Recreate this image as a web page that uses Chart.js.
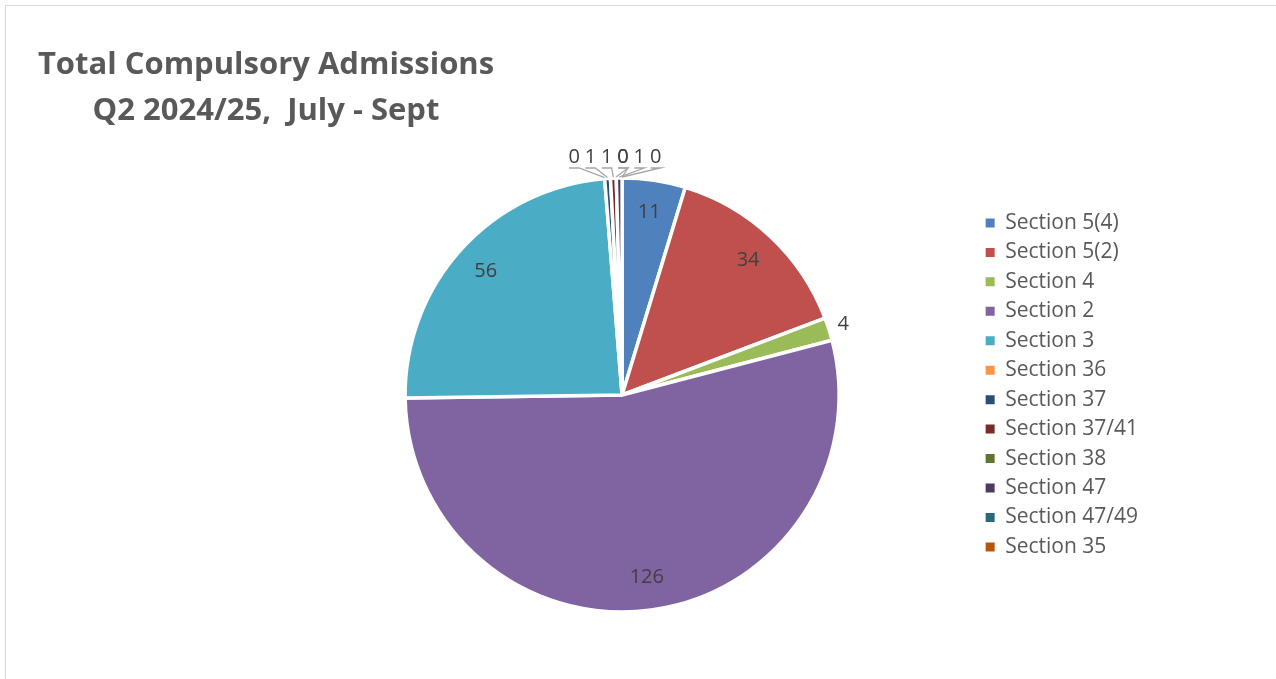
<!DOCTYPE html>
<html>
<head>
<meta charset="utf-8">
<script src="https://cdn.jsdelivr.net/npm/chart.js@4"></script>
<style>
html,body{margin:0;padding:0;background:#fff;overflow:hidden;}
#wrap{position:absolute;left:0;top:0;width:1276px;height:679px;}
#frame{position:absolute;left:5px;top:5px;width:1300px;height:700px;border:1px solid #d9d9d9;pointer-events:none;}
</style>
</head>
<body>
<div id="wrap"><canvas id="pieChart" width="1276" height="679"></canvas></div>
<div id="frame"></div>
<script>
const titleLines = ["Total Compulsory Admissions", "Q2 2024/25,  July - Sept"];

const sections = ["Section 5(4)", "Section 5(2)", "Section 4", "Section 2", "Section 3",
  "Section 36", "Section 37", "Section 37/41", "Section 38", "Section 47", "Section 47/49", "Section 35"];

const admissions = [11, 34, 4, 126, 56, 0, 1, 1, 0, 1, 0, 0];

const sliceColours = ["#4F81BD", "#C0504D", "#9BBB59", "#8064A2", "#4BACC6",
  "#F79646", "#2C4D75", "#772C2A", "#5F7530", "#4D3B62", "#276A7C", "#B65708"];

const FONT = "'Open Sans', 'Liberation Sans', sans-serif";

// title block, both lines centred on one axis; size fitted to the first line's width
const titlePlugin = {
  id: "titleBlock",
  afterDraw(chart){
    const ctx = chart.ctx;
    ctx.save();
    ctx.font = "bold 30px " + FONT;
    const size = 30 * 456 / ctx.measureText(titleLines[0]).width;
    ctx.font = "bold " + size.toFixed(1) + "px " + FONT;
    ctx.fillStyle = "#595959";
    ctx.textAlign = "center";
    ctx.textBaseline = "alphabetic";
    titleLines.forEach((t, i) => ctx.fillText(t, 266, 74 + i * 46));
    ctx.restore();
  }
};

// value labels: inside for big slices, outside for thin ones, leader lines for tiny ones
const valueLabels = {
  id: "valueLabels",
  afterDatasetsDraw(chart){
    const ctx = chart.ctx;
    const arcs = chart.getDatasetMeta(0).data;
    const leaderSlot = [0, 1, 2, 3, 4, 5, 3];
    let k = 0;
    ctx.save();
    ctx.font = "20px " + FONT;
    ctx.fillStyle = "#404040";
    ctx.textAlign = "center";
    ctx.textBaseline = "middle";
    arcs.forEach((arc, i) => {
      const p = arc.getProps(["x", "y", "startAngle", "endAngle", "outerRadius"], true);
      const mid = (p.startAngle + p.endAngle) / 2;
      const span = p.endAngle - p.startAngle;
      const v = admissions[i];
      if (span > 0.2) {
        const r = p.outerRadius * 0.85;
        ctx.fillText(v, p.x + Math.cos(mid) * r, p.y + Math.sin(mid) * r);
      } else if (span > 0.05) {
        const r = p.outerRadius * 1.07;
        ctx.fillText(v, p.x + Math.cos(mid) * r, p.y + Math.sin(mid) * r);
      } else {
        const lx = p.x - 48 + leaderSlot[k] * 16.3;
        const ly = p.y - p.outerRadius - 21;
        k++;
        const ex = p.x + Math.cos(mid) * (p.outerRadius + 1);
        const ey = p.y + Math.sin(mid) * (p.outerRadius + 1);
        ctx.strokeStyle = "#a6a6a6";
        ctx.lineWidth = 1.3;
        ctx.beginPath();
        ctx.moveTo(lx - 5, ly + 11);
        ctx.lineTo(lx + 5, ly + 11);
        ctx.lineTo(ex, ey);
        ctx.stroke();
        ctx.fillText(v, lx, ly);
      }
    });
    ctx.restore();
  }
};

new Chart(document.getElementById("pieChart"), {
  type: "pie",
  data: {
    labels: sections,
    datasets: [{
      data: admissions,
      backgroundColor: sliceColours,
      borderColor: "#ffffff",
      borderWidth: 3.5,
      hoverOffset: 0,
      radius: 217
    }]
  },
  options: {
    responsive: false,
    animation: false,
    layout: { padding: { left: 267, right: 128, top: 204, bottom: 93 } },
    plugins: {
      title: { display: false },
      tooltip: { enabled: false },
      legend: {
        position: "right",
        align: "start",
        labels: {
          boxWidth: 9,
          boxHeight: 9,
          padding: 8.45,
          color: "#595959",
          font: { family: FONT, size: 21 },
          // plain filled squares, without the white slice outline
          generateLabels(chart){
            return Chart.overrides.pie.plugins.legend.labels.generateLabels(chart)
              .map(item => Object.assign(item, { lineWidth: 0, strokeStyle: item.fillStyle }));
          }
        }
      }
    }
  },
  plugins: [titlePlugin, valueLabels]
});
</script>
</body>
</html>
